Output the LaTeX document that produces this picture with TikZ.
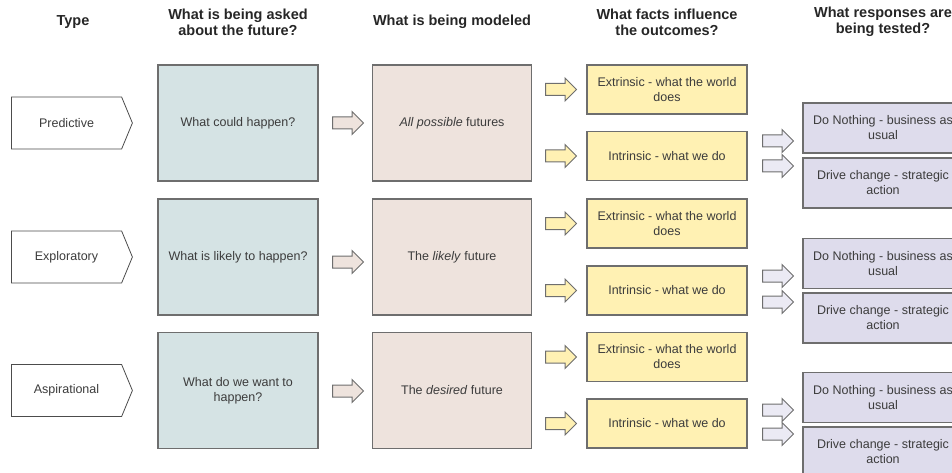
\documentclass[tikz,border=0pt]{standalone}
\usepackage{fontspec}
\setmainfont{Liberation Sans}
\usetikzlibrary{shapes.symbols,shapes.arrows}

\definecolor{askfill}{HTML}{D5E3E4}
\definecolor{modelfill}{HTML}{EEE3DD}
\definecolor{factfill}{HTML}{FFF1B3}
\definecolor{respfill}{HTML}{DEDCEC}
\definecolor{boxline}{HTML}{6E6E6E}
\definecolor{bodytext}{HTML}{3C3C3C}

\tikzset{
  header/.style={font=\fontsize{14.5}{16}\selectfont\bfseries, text=black!85, align=center},
  cell/.style={draw=boxline, line width=1.3pt, font=\fontsize{12.5}{15}\selectfont,
               text=bodytext, align=flush center, inner sep=0pt},
  typebox/.style={cell, signal, signal to=east, signal pointer angle=135, draw=black!70,
                  fill=white, line width=0.8pt, minimum width=121pt, minimum height=52pt,
                  anchor=west},
  askbox/.style={cell, fill=askfill, minimum width=160pt, minimum height=116pt},
  modelbox/.style={cell, fill=modelfill, minimum width=159pt, minimum height=116pt},
  factbox/.style={cell, fill=factfill, text width=150pt, minimum width=160pt, minimum height=49pt},
  respbox/.style={cell, fill=respfill, text width=150pt, minimum width=160pt, minimum height=50pt},
  blockarrow/.style={single arrow, draw=boxline, line width=1pt, inner xsep=0pt, inner ysep=5.5pt,
                     single arrow head extend=5.5pt, minimum height=31pt}
}

\begin{document}
\begin{tikzpicture}[x=1pt,y=-1pt]
  \useasboundingbox (0,0) rectangle (952,473);
  \clip (0,0) rectangle (952,473);
  % Column headers
  \node[header] (hType)  at (73,22)  {Type};
  \node[header] (hAsk)   at (238,22) {What is being asked\\about the future?};
  \node[header] (hModel) at (452,22) {What is being modeled};
  \node[header] (hFact)  at (667,22) {What facts influence\\the outcomes?};
  \node[header] (hResp)  at (883,22) {What responses are\\being tested?};
  % One row per type
  \foreach \y/\nm/\typ/\ask/\model/\ay in {
      123/pred/Predictive/{What could happen?}/{\textit{All possible} futures}/123,
      257/expl/Exploratory/{What is likely to happen?}/{The \textit{likely} future}/262,
      390.5/aspi/Aspirational/{What do we want to\\happen?}/{The \textit{desired} future}/391}{
    \node[typebox] (type\nm) at (11,\y) {\typ};
    \node[askbox] (ask\nm) at (238,\y) {\ask};
    \node[blockarrow, fill=modelfill] (arr\nm) at (345,\ay) {};
    \node[modelbox] (model\nm) at (452,\y) {\model};
  }
  % Extrinsic and intrinsic facts
  \foreach \i/\y in {1/89.5, 3/223.5, 5/357}{
    \node[blockarrow, fill=factfill] (fa\i) at (558,\y) {};
    \node[factbox] (fact\i) at (667,\y) {Extrinsic - what the world does};
  }
  \foreach \i/\y in {2/156, 4/290.5, 6/423.5}{
    \node[blockarrow, fill=factfill] (fa\i) at (558,\y) {};
    \node[factbox] (fact\i) at (667,\y) {Intrinsic - what we do};
  }
  % Responses
  \foreach \i/\y/\ay in {1/128/141, 3/263.5/276, 5/397.5/410}{
    \node[blockarrow, fill=respfill!60] (ra\i) at (775,\ay) {};
    \node[respbox] (resp\i) at (883,\y) {Do Nothing - business as usual};
  }
  \foreach \i/\y/\ay in {2/183/166, 4/318/302, 6/452/434}{
    \node[blockarrow, fill=respfill!60] (ra\i) at (775,\ay) {};
    \node[respbox] (resp\i) at (883,\y) {Drive change - strategic action};
  }
\end{tikzpicture}
\end{document}
